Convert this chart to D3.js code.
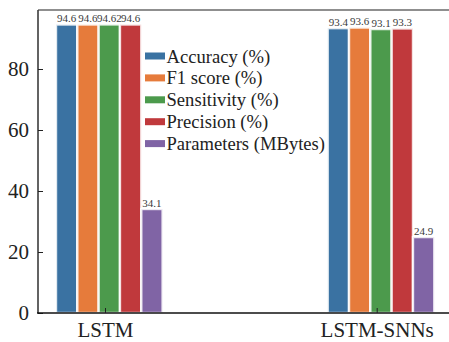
<!DOCTYPE html>
<html>
<head>
<meta charset="utf-8">
<script src="https://cdn.jsdelivr.net/npm/d3@7"></script>
<style>
  body { margin: 0; background: #fff; }
  svg { display: block; font-family: "Liberation Serif", "Times New Roman", serif; }
</style>
</head>
<body>
<script>
var width = 449;
var height = 342;

// data
var groups = ["LSTM", "LSTM-SNNs"];
var series = ["Accuracy (%)", "F1 score (%)", "Sensitivity (%)", "Precision (%)", "Parameters (MBytes)"];
var lstmValues = [94.6, 94.6, 94.62, 94.6, 34.1];
var snnValues = [93.4, 93.6, 93.1, 93.3, 24.9];
var valueLabels = [["94.6", "94.6", "94.62", "94.6", "34.1"], ["93.4", "93.6", "93.1", "93.3", "24.9"]];
var yTicks = [0, 20, 40, 60, 80];
var colors = ["#3a72a2", "#e67b3b", "#4c9a4c", "#c0393c", "#8064a5"];

var values = [lstmValues, snnValues];

var mLeft = 38, mTop = 10, mBottom = 313;
var serif = "Liberation Serif, Times New Roman, serif";

var svg = d3.select("body")
  .append("svg")
  .attr("width", width)
  .attr("height", height);

var y = d3.scaleLinear()
  .domain([0, 99.35])
  .range([mBottom, mTop]);

// tick positions of the two groups
var x = d3.scalePoint()
  .domain(groups)
  .range([105, 376.7]);

// bars inside a group, slightly shifted right of the tick
var inner = d3.scaleBand()
  .domain(series)
  .range([-49, 57.6]);

// top spine (grey)
svg.append("line")
  .attr("x1", mLeft).attr("x2", width)
  .attr("y1", mTop).attr("y2", mTop)
  .attr("stroke", "#6a6a6a")
  .attr("stroke-width", 1.6);

// bars
groups.forEach(function (g, gi) {
  var grp = svg.append("g")
    .attr("transform", "translate(" + x(g) + ",0)");

  grp.selectAll("rect")
    .data(values[gi])
    .enter()
    .append("rect")
    .attr("x", function (d, i) { return inner(series[i]); })
    .attr("y", function (d) { return y(d); })
    .attr("width", inner.bandwidth())
    .attr("height", function (d) { return mBottom - y(d); })
    .attr("fill", function (d, i) { return colors[i]; })
    .attr("stroke", "#fff")
    .attr("stroke-opacity", 0.85)
    .attr("stroke-width", 2.4);

  grp.selectAll("text")
    .data(values[gi])
    .enter()
    .append("text")
    .attr("x", function (d, i) { return inner(series[i]) + inner.bandwidth() / 2; })
    .attr("y", function (d) { return y(d) - 2.5; })
    .attr("text-anchor", "middle")
    .attr("font-size", 11)
    .attr("font-family", serif)
    .attr("fill", "#3a3a3a")
    .text(function (d, i) { return valueLabels[gi][i]; });
});

// y axis
var yAxis = d3.axisLeft(y)
  .tickValues(yTicks)
  .tickSizeInner(-5)
  .tickSizeOuter(0)
  .tickPadding(9);

var ya = svg.append("g")
  .attr("transform", "translate(" + mLeft + ",0)")
  .call(yAxis);
ya.select(".domain")
  .attr("stroke", "#3c3c3c")
  .attr("stroke-width", 1.6)
  .attr("d", "M0," + mTop + "V" + mBottom);
ya.selectAll(".tick line").attr("stroke", "#222");
ya.selectAll(".tick text")
  .attr("font-size", 21)
  .attr("fill", "#222")
  .attr("font-family", serif);

// x axis
var xAxis = d3.axisBottom(x)
  .tickSizeInner(-5)
  .tickSizeOuter(0)
  .tickPadding(9.5);

var xa = svg.append("g")
  .attr("transform", "translate(0," + mBottom + ")")
  .call(xAxis);
xa.select(".domain")
  .attr("stroke", "#111")
  .attr("stroke-width", 1.4)
  .attr("d", "M" + (mLeft - 1) + ",0H" + width);
xa.selectAll(".tick line").attr("stroke", "#222");
xa.selectAll(".tick text")
  .attr("font-size", 21)
  .attr("fill", "#222")
  .attr("font-family", serif);

// legend
var legend = svg.append("g")
  .attr("transform", "translate(145,56)");

var item = legend.selectAll("g")
  .data(series)
  .enter()
  .append("g")
  .attr("transform", function (d, i) { return "translate(0," + (i * 21.9) + ")"; });

item.append("rect")
  .attr("x", 0)
  .attr("y", -3.5)
  .attr("width", 20)
  .attr("height", 7)
  .attr("fill", function (d, i) { return colors[i]; });

item.append("text")
  .attr("x", 21.5)
  .attr("y", 6.5)
  .attr("font-size", 18.6)
  .attr("font-family", serif)
  .attr("fill", "#222")
  .text(function (d) { return d; });
</script>
</body>
</html>
